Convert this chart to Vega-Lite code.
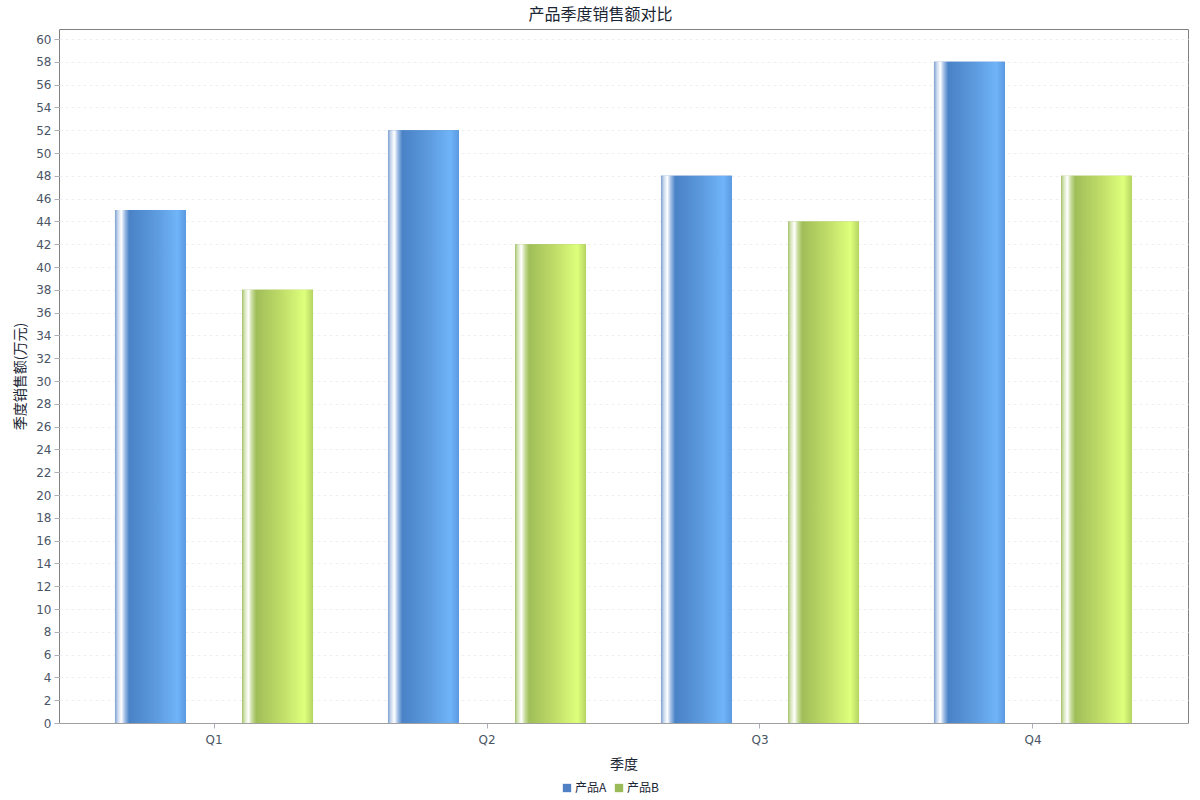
{
  "$schema": "https://vega.github.io/schema/vega-lite/v6.json",
  "width": 1129,
  "height": 694,
  "autosize": "none",
  "padding": {"left": 59, "top": 29, "right": 12, "bottom": 77},
  "background": "white",
  "title": {
    "text": "产品季度销售额对比",
    "fontSize": 16,
    "font": "Noto Sans CJK SC",
    "fontWeight": "normal",
    "color": "#1a2533",
    "offset": 6,
    "dx": -23,
    "anchor": "middle"
  },
  "config": {
    "font": "Noto Sans CJK SC",
    "view": {"stroke": "#808080", "strokeWidth": 1},
    "axis": {
      "labelFont": "DejaVu Sans",
      "labelFontSize": 12,
      "labelColor": "#4a5566",
      "tickColor": "#aab0b8",
      "domainColor": "#a0a0a0",
      "titleFont": "Noto Sans CJK SC",
      "titleFontSize": 14,
      "titleFontWeight": "normal",
      "titleColor": "#1a2533"
    }
  },
  "data": {
    "values": [
      {"quarter": "Q1", "series": "产品A", "value": 45},
      {"quarter": "Q1", "series": "产品B", "value": 38},
      {"quarter": "Q2", "series": "产品A", "value": 52},
      {"quarter": "Q2", "series": "产品B", "value": 42},
      {"quarter": "Q3", "series": "产品A", "value": 48},
      {"quarter": "Q3", "series": "产品B", "value": 44},
      {"quarter": "Q4", "series": "产品A", "value": 58},
      {"quarter": "Q4", "series": "产品B", "value": 48}
    ]
  },
  "encoding": {
    "x": {
      "field": "quarter",
      "type": "nominal",
      "scale": {"paddingInner": 0, "paddingOuter": 0.0678},
      "axis": {"title": "季度", "labelAngle": 0, "labelPadding": 6, "tickSize": 5, "titlePadding": 12}
    },
    "y": {
      "field": "value",
      "type": "quantitative",
      "scale": {"domain": [0, 60.88], "nice": false},
      "axis": {
        "title": "季度销售额(万元)",
        "values": [0,2,4,6,8,10,12,14,16,18,20,22,24,26,28,30,32,34,36,38,40,42,44,46,48,50,52,54,56,58,60],
        "grid": true,
        "gridColor": "#f0f0f0",
        "gridDash": [3, 3],
        "tickSize": 5,
        "labelPadding": 3,
        "titlePadding": 8,
        "domain": false
      }
    },
    "xOffset": {
      "field": "series",
      "type": "nominal",
      "scale": {"paddingInner": 0.441, "paddingOuter": 0.295}
    }
  },
  "layer": [
    {
      "mark": {"type": "bar"},
      "encoding": {
        "color": {
          "field": "series",
          "type": "nominal",
          "scale": {"domain": ["产品A", "产品B"], "range": ["#4f81c4", "#9bbb59"]},
          "legend": {
            "title": null,
            "orient": "none",
            "direction": "horizontal",
            "legendX": 502,
            "legendY": 753,
            "symbolType": "square",
            "symbolSize": 70,
            "symbolStrokeWidth": 0,
            "labelFont": "Noto Sans CJK SC",
            "labelFontSize": 12,
            "labelColor": "#1a2533",
            "columnPadding": 6,
            "symbolOffset": 0,
            "labelOffset": 2
          }
        }
      }
    },
    {
      "transform": [{"filter": "datum.series === '产品A'"}],
      "mark": {
        "type": "bar",
        "color": {
          "gradient": "linear",
          "x1": 0, "x2": 1, "y1": 0, "y2": 0,
          "stops": [
            {"offset": 0, "color": "#7d9fce"},
            {"offset": 0.04, "color": "#c8d8ee"},
            {"offset": 0.09, "color": "#ffffff"},
            {"offset": 0.14, "color": "#9fbde4"},
            {"offset": 0.2, "color": "#4a82c6"},
            {"offset": 0.55, "color": "#5b98dc"},
            {"offset": 0.88, "color": "#70b4f8"},
            {"offset": 1, "color": "#5b99e0"}
          ]
        }
      },
      "encoding": {}
    },
    {
      "transform": [{"filter": "datum.series === '产品B'"}],
      "mark": {
        "type": "bar",
        "color": {
          "gradient": "linear",
          "x1": 0, "x2": 1, "y1": 0, "y2": 0,
          "stops": [
            {"offset": 0, "color": "#a6c26c"},
            {"offset": 0.04, "color": "#d8e6bc"},
            {"offset": 0.09, "color": "#ffffff"},
            {"offset": 0.14, "color": "#c8dc9c"},
            {"offset": 0.2, "color": "#a0be58"},
            {"offset": 0.55, "color": "#bfdc68"},
            {"offset": 0.88, "color": "#deff7c"},
            {"offset": 1, "color": "#b4d462"}
          ]
        }
      },
      "encoding": {}
    }
  ]
}
